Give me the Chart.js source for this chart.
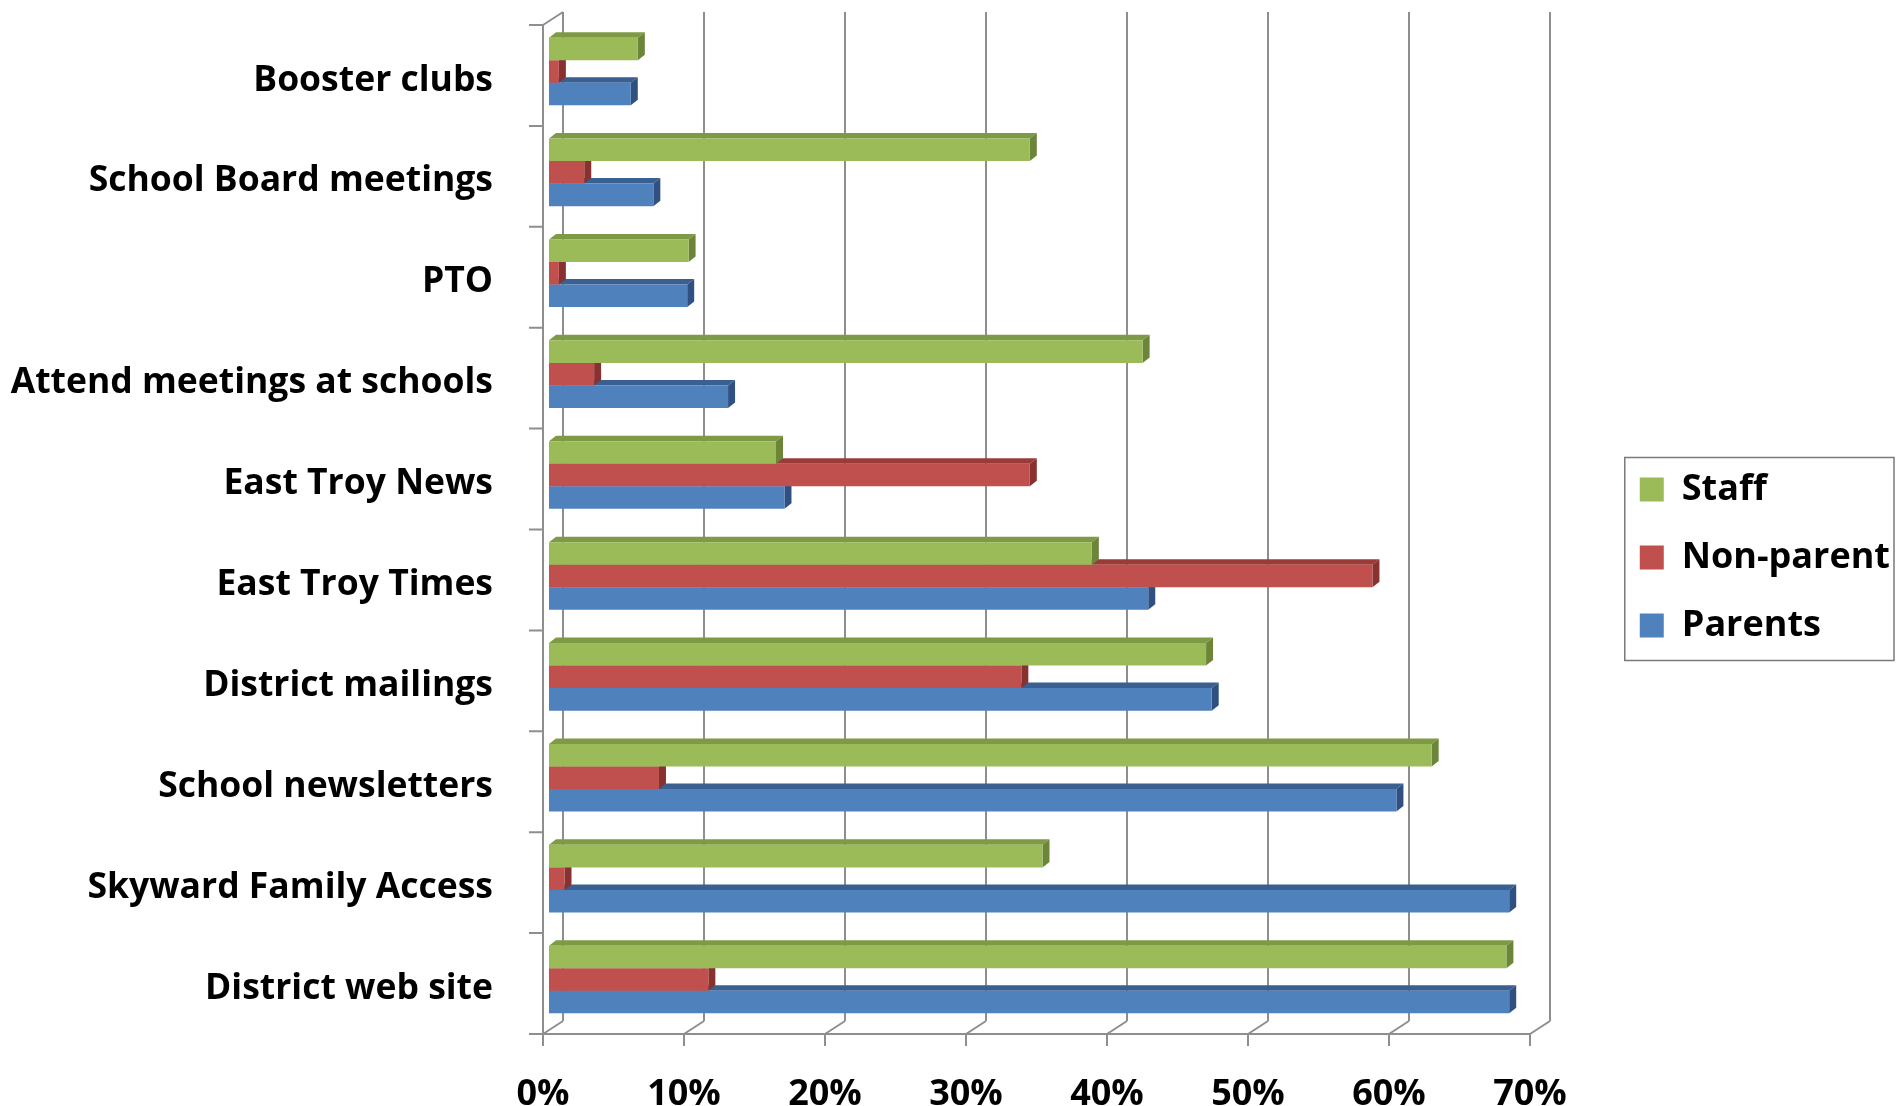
<!DOCTYPE html>
<html>
<head>
<meta charset="utf-8">
<script src="https://cdn.jsdelivr.net/npm/chart.js@4.4.1/dist/chart.umd.min.js"></script>
<style>
  html, body { margin: 0; padding: 0; background: #ffffff; }
  #wrap { width: 1900px; height: 1106px; position: relative; }
</style>
</head>
<body>
<div id="wrap"><canvas id="c" width="1900" height="1106"></canvas></div>
<script>
// ---------------- DATA ----------------
const categories = [
  'Booster clubs',
  'School Board meetings',
  'PTO',
  'Attend meetings at schools',
  'East Troy News',
  'East Troy Times',
  'District mailings',
  'School newsletters',
  'Skyward Family Access',
  'District web site'
];
const staffValues     = [6.3, 34.1, 9.9, 42.1, 16.1, 38.5, 46.6, 62.6, 35.0, 67.9];
const nonParentValues = [0.7, 2.5, 0.7, 3.2, 34.1, 58.4, 33.5, 7.8, 1.1, 11.3];
const parentValues    = [5.8, 7.4, 9.8, 12.7, 16.7, 42.5, 47.0, 60.1, 68.1, 68.1];
const seriesNames = ['Staff', 'Non-parent', 'Parents'];
const tickValues = [0, 10, 20, 30, 40, 50, 60, 70];

// ---------------- STYLE / LAYOUT ----------------
const FONT = 'Open Sans';
const FS = 36;
const CAT_FS = 35.5;
const PLOT_LEFT = 549;      // bar plane value 0
const PLOT_TOP = 21;
const PLOT_BOTTOM = 1030;
const LEGEND_TOP_PAD = 9;
const X_AT_70 = 1536;       // bar plane value 70
const LEG_PAD = 32, LEG_BOX = 24, LEG_BOX_X = 1642;
const FRONT = { dx: -6, dy: 4 };   // front plane offset from bar plane
const BACK = { dx: 14, dy: -9 };   // back wall offset from bar plane
const BAR_DEPTH = { dx: 7, dy: -5.5 };
const GRID_COLOR = '#8e8e8e';

const colors = {
  Staff:       { front: '#9BBB59', top: '#7E9A45', side: '#6C8639' },
  'Non-parent':{ front: '#C0504D', top: '#9A3B39', side: '#873230' },
  Parents:     { front: '#4F81BD', top: '#3A6091', side: '#2F5080' }
};

// measure legend text to place legend / chart area
const mctx = document.createElement('canvas').getContext('2d');
mctx.font = `bold ${FS}px "${FONT}"`;
const maxTextW = Math.max(...seriesNames.map(s => mctx.measureText(s).width));
const legendW = LEG_PAD + LEG_BOX + FS / 2 + maxTextW + 10;
const legendLeft = LEG_BOX_X - LEG_PAD;
const padRight = Math.max(0, 1900 - legendLeft - legendW);
const chartRight = 1900 - padRight - legendW;
const xMax = 70 * (chartRight - PLOT_LEFT) / (X_AT_70 - PLOT_LEFT);

// ---------------- PLUGINS ----------------
const walls = {
  id: 'walls',
  beforeDatasetsDraw(chart) {
    const ctx = chart.ctx, xs = chart.scales.x, ys = chart.scales.y, ca = chart.chartArea;
    const vmin = tickValues[0], vmax = tickValues[tickValues.length - 1];
    const fx = v => xs.getPixelForValue(v) + FRONT.dx;
    const bx = v => xs.getPixelForValue(v) + BACK.dx;
    const fBottom = ca.bottom + FRONT.dy, fTop = ca.top + FRONT.dy;
    const bBottom = ca.bottom + BACK.dy, bTop = ca.top + BACK.dy;
    ctx.save();
    ctx.strokeStyle = GRID_COLOR;
    ctx.lineWidth = 2;
    ctx.beginPath();
    tickValues.forEach(v => {
      ctx.moveTo(bx(v), bTop); ctx.lineTo(bx(v), bBottom);
      ctx.moveTo(fx(v), fBottom); ctx.lineTo(bx(v), bBottom);
      ctx.moveTo(fx(v), fBottom); ctx.lineTo(fx(v), fBottom + 12);
    });
    ctx.moveTo(fx(vmin), fBottom); ctx.lineTo(fx(vmax), fBottom);
    ctx.moveTo(fx(vmin), fTop); ctx.lineTo(fx(vmin), fBottom);
    ctx.moveTo(fx(vmin), fTop); ctx.lineTo(bx(vmin), bTop);
    const n = categories.length;
    const band = Math.abs(ys.getPixelForValue(1) - ys.getPixelForValue(0));
    for (let i = 0; i <= n; i++) {
      const y = ys.getPixelForValue(0) - band / 2 + i * band + FRONT.dy;
      ctx.moveTo(fx(vmin) - 14, y); ctx.lineTo(fx(vmin), y);
    }
    ctx.stroke();
    ctx.restore();
  }
};

const bar3d = {
  id: 'bar3d',
  beforeDatasetDraw(chart, args) {
    const ctx = chart.ctx;
    const ds = chart.data.datasets[args.index];
    const c = colors[ds.label];
    ctx.save();
    args.meta.data.forEach(el => {
      const p = el.getProps(['x', 'y', 'base', 'height'], true);
      const x0 = Math.min(p.base, p.x), x1 = Math.max(p.base, p.x);
      const yt = p.y - p.height / 2, yb = p.y + p.height / 2;
      const dx = BAR_DEPTH.dx, dy = BAR_DEPTH.dy;
      ctx.fillStyle = c.top;
      ctx.beginPath();
      ctx.moveTo(x0, yt); ctx.lineTo(x1, yt); ctx.lineTo(x1 + dx, yt + dy); ctx.lineTo(x0 + dx, yt + dy);
      ctx.closePath(); ctx.fill();
      ctx.fillStyle = c.side;
      ctx.beginPath();
      ctx.moveTo(x1, yt); ctx.lineTo(x1 + dx, yt + dy); ctx.lineTo(x1 + dx, yb + dy); ctx.lineTo(x1, yb);
      ctx.closePath(); ctx.fill();
    });
    ctx.restore();
  }
};

const legendFrame = {
  id: 'legendFrame',
  afterDraw(chart) {
    const lg = chart.legend;
    if (!lg || !lg.legendHitBoxes || !lg.legendHitBoxes.length) return;
    const hb = lg.legendHitBoxes;
    const left = hb[0].left - 15;
    const right = Math.max(...hb.map(h => h.left + h.width)) + 4;
    const top = hb[0].top + FS / 2 - 32;
    const bottom = hb[hb.length - 1].top + FS / 2 + 35;
    const ctx = chart.ctx;
    ctx.save();
    ctx.strokeStyle = '#7a7a7a';
    ctx.lineWidth = 1.5;
    ctx.strokeRect(left, top, right - left, bottom - top);
    ctx.restore();
  }
};

// ---------------- CHART ----------------
const seriesData = [staffValues, nonParentValues, parentValues];
new Chart(document.getElementById('c'), {
  type: 'bar',
  data: {
    labels: categories,
    datasets: seriesNames.map((name, i) => ({
      label: name,
      data: seriesData[i],
      backgroundColor: colors[name].front,
      borderWidth: 0,
      categoryPercentage: 0.67,
      barPercentage: 1.0
    }))
  },
  options: {
    indexAxis: 'y',
    responsive: false,
    animation: false,
    devicePixelRatio: 1,
    layout: { padding: { top: LEGEND_TOP_PAD, bottom: 0, left: 0, right: padRight } },
    scales: {
      x: {
        type: 'linear',
        min: 0,
        max: xMax,
        grid: { display: false },
        border: { display: false },
        ticks: {
          stepSize: 10,
          includeBounds: false,
          padding: 35,
          labelOffset: FRONT.dx,
          color: '#000',
          font: { family: FONT, size: FS, weight: 'bold' },
          callback: v => v + '%'
        },
        afterFit: s => { s.height = 1106 - PLOT_BOTTOM; s.paddingLeft = 0; s.paddingRight = 0; }
      },
      y: {
        type: 'category',
        grid: { display: false },
        border: { display: false },
        ticks: {
          padding: 48,
          labelOffset: 9,
          color: '#000',
          font: { family: FONT, size: CAT_FS, weight: 'bold' }
        },
        afterFit: s => { s.width = PLOT_LEFT; s.paddingTop = PLOT_TOP; s.paddingBottom = 0; }
      }
    },
    plugins: {
      tooltip: { enabled: false },
      legend: {
        position: 'right',
        align: 'center',
        labels: {
          boxWidth: LEG_BOX,
          boxHeight: LEG_BOX,
          padding: LEG_PAD,
          color: '#000',
          font: { family: FONT, size: FS, weight: 'bold' }
        }
      }
    }
  },
  plugins: [walls, bar3d, legendFrame]
});
</script>
</body>
</html>
